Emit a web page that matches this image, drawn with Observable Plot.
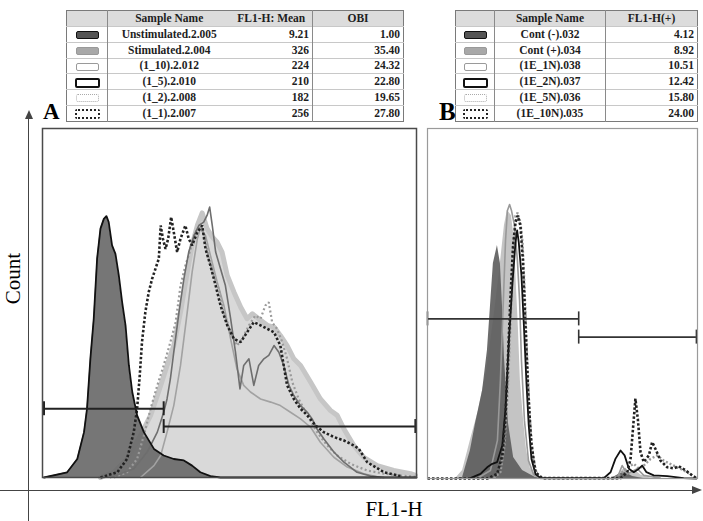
<!DOCTYPE html>
<html><head><meta charset="utf-8">
<script src="https://cdn.jsdelivr.net/npm/d3@7"></script>
<script src="https://cdn.jsdelivr.net/npm/@observablehq/plot@0.6"></script>
<style>
body{margin:0;background:#fff;}
#root{position:relative;width:703px;height:521px;overflow:hidden;font-family:"Liberation Serif","Times New Roman",serif;background:#fff;}
.abs{position:absolute;}
table.leg{position:absolute;border-collapse:collapse;table-layout:fixed;font-weight:bold;font-size:11.5px;color:#1e1e1e;border:1px solid #7a7a7a;}
table.leg td{height:14.8px;padding:0 3px;border-top:1px solid #c8c8c8;line-height:13px;white-space:nowrap;overflow:hidden;}
table.leg tr.hd td{background:#dcdcdc;border-top:none;height:15px;}
table.leg td.ic{border-right:1px solid #8a8a8a;text-align:center;padding:0;}
table.leg td.c{text-align:center;}
table.leg td.r{text-align:right;}
table.leg td.sep{border-right:1px solid #8a8a8a;}
.sw{display:inline-block;width:21px;height:6px;border-radius:2px;vertical-align:middle;}
.lab{font-weight:bold;font-size:23px;line-height:1;}
</style></head>
<body><div id="root"></div>
<script>
// ---------- Legend tables ----------
const namesA = ["Unstimulated.2.005","Stimulated.2.004","(1_10).2.012","(1_5).2.010","(1_2).2.008","(1_1).2.007"];
const meansA = ["9.21","326","224","210","182","256"];
const obiA = ["1.00","35.40","24.32","22.80","19.65","27.80"];
const headersA = ["Sample Name","FL1-H: Mean","OBI"];
const namesB = ["Cont (-).032","Cont (+).034","(1E_1N).038","(1E_2N).037","(1E_5N).036","(1E_10N).035"];
const fl1B = ["4.12","8.92","10.51","12.42","15.80","24.00"];
const headersB = ["Sample Name","FL1-H(+)"];

// ---------- Panel A histograms: [channel (0-100), count (% of max scale)] ----------
const unstimA = [[0.4,0],[6.6,1.5],[9.3,5.3],[11.1,13],[11.9,19.7],[12.8,34],[13.7,45.5],[14.6,62.7],[15.5,71.3],[16.4,74.1],[17.1,74.9],[17.7,73.2],[18.6,66.5],[19.5,64.1],[20.4,57.9],[21.3,50.2],[22.2,43.6],[23.1,32.1],[24.0,24.5],[25.3,17.8],[27.1,13],[29.8,8.2],[32.4,6.3],[35.1,5.3],[37.8,4.9],[40.0,3.4],[42.2,1.5],[44.9,0.4],[47.6,0],[100,0]];
const stimA = [[15.5,0],[19.1,1.5],[22.6,5.3],[26.2,12],[28.9,17.8],[31.6,26.4],[33.3,32.1],[35.1,37.8],[36.9,47.4],[38.7,58.8],[40,66.5],[41.4,72.2],[42.7,75.8],[44,71.3],[45.4,68.9],[46.7,67.4],[48,64.6],[49.4,57.9],[51.2,53.1],[53,48.8],[54.7,45.5],[56.1,46.9],[57.8,45.5],[60.1,43.6],[61.9,43.1],[63.6,40.7],[65.4,37.8],[67.2,34],[69,32.1],[71.7,27.3],[74.3,22.5],[77,19.2],[78.8,17.8],[80.6,13.9],[83.2,9.2],[85.9,5.8],[89.5,3.4],[93.9,2],[98.4,1.1],[99.7,0.6]];
const r1_10A = [[26.2,0],[29.8,3.4],[31.6,6.3],[33.3,13],[35.1,20.6],[36.9,32.1],[38.7,47.4],[40,58.8],[41.4,68.4],[42.2,71.3],[43.6,69.3],[44.9,63.6],[46.7,56],[48.5,49.3],[50.3,39.7],[52,31.1],[53.8,26.4],[55.6,24.5],[58.3,22.5],[61,21.6],[63.6,20.6],[66.3,18.7],[69,16.8],[71.7,14.4],[74.3,10.1],[77.9,5.8],[81.5,3],[85.9,1.1],[90.4,0]];
const r1_5A = [[18.2,0],[24.4,2.5],[28,7.3],[30.7,13],[32.4,18.7],[33.3,22.5],[34.2,28.3],[35.1,35.9],[36.5,47.4],[37.8,56.9],[39.1,64.6],[40.5,69.3],[41.8,72.2],[43.1,73.2],[44,75.1],[44.7,77.5],[45.4,72.2],[46.3,64.6],[47.6,59.8],[48.9,55],[50.3,45.5],[51.6,35.9],[52.8,25.4],[53.8,32.1],[55.2,34],[56.5,26.4],[57.8,32.1],[59.2,34],[60.5,35],[61.9,37.8],[63.2,35.9],[64.5,32.1],[65.9,26.4],[67.2,23.5],[69,20.6],[70.8,18.7],[72.1,16.8],[73.4,13.9],[75.2,11.1],[77.9,7.3],[80.6,4.4],[84.1,1.5],[87.7,0.4],[91.3,0]];
const r1_2A = [[19.1,0],[22.6,1.5],[25.3,5.3],[27.1,12],[28.9,19.7],[30.7,26.4],[32.4,32.1],[34.2,38.8],[35.6,44.5],[36.9,55],[38.2,60.7],[39.6,65.5],[40.9,70.3],[42.2,72.2],[43.3,69.3],[44.5,62.7],[45.8,57.9],[47.1,54.1],[48.5,47.4],[50.3,41.6],[52,37.8],[53.4,39.7],[55.2,43.6],[56.9,46.4],[58.3,45.5],[59.6,49.3],[60.5,50.2],[61.4,44.5],[62.7,42.6],[64.1,38.8],[65.4,34],[66.8,27.3],[68.5,22.5],[70.8,17.8],[73.4,13],[76.1,9.2],[78.8,6.3],[82.4,3.9],[86.8,2],[91.3,1.1],[95.7,0.6],[99.7,0.2]];
const r1_1A = [[15.5,0],[20,1.5],[22.6,5.3],[24.4,13],[25.3,19.7],[26,29.2],[26.6,38.8],[27.5,47.4],[28.4,53.1],[29.3,56.9],[30.2,59.8],[31.1,62.7],[31.6,72.2],[32.2,68.4],[32.9,65.5],[33.6,68.4],[34.4,74.6],[35.1,70.3],[36,64.6],[36.9,68.4],[38.2,72.2],[39.1,68.4],[40,66.5],[41.4,70.3],[42.7,72.2],[43.6,65.5],[44.9,60.7],[46.3,55],[47.6,49.3],[49.4,43.6],[51.2,39.7],[53,38.8],[54.7,41.6],[56.5,44.5],[58.3,43.6],[60.1,42.6],[61.9,41.6],[63.6,37.8],[65.4,26.4],[67.2,22.5],[69,19.7],[70.8,17.8],[73,14.9],[75.2,13],[77.9,11.6],[80.6,10.6],[83.2,9.2],[84.6,8.2],[86.8,4.4],[91.3,1.5],[95.7,0.4]];
const gatesA = [{x1:0.4,x2:32.4,y:19.7},{x1:32.4,x2:99.7,y:14.6}];

// ---------- Panel B histograms ----------
const contNegB = [[10.4,0],[13,0.3],[15.9,8],[17.8,15.7],[20.4,25.1],[22.2,36.6],[23.3,48.9],[24.4,61.4],[25.9,66.6],[27,61.4],[27.8,48.9],[28.5,34.6],[30,15.7],[31.9,6],[35.2,2.3],[40,0.3],[43.7,0],[68,0],[71,1.2],[73,1.8],[76,0.6],[80,0]];
const contPosB = [[10.4,0],[13,2.3],[15.9,10.9],[18.9,19.4],[21.9,30.9],[24.4,45.1],[26.7,59.4],[28.5,72.3],[29.6,76.6],[31.1,75.1],[32.2,68],[33,53.7],[33.7,42.3],[34.4,28],[35.6,16.6],[36.7,8],[38.1,2.9],[41.1,0.3],[45,0],[69,0],[71.5,1.8],[72.7,2.8],[74.5,1.5],[77,2.3],[79,1],[83,0]];
const e1NB = [[18.9,0.3],[23.3,2.3],[25.9,10.9],[27,28],[28.1,50.9],[28.9,68],[29.6,76.6],[30.4,78.3],[31.1,76.6],[32.2,72.3],[33.3,62.3],[34.1,50.9],[34.8,33.7],[35.9,16.6],[37.4,5.1],[39.3,1.1],[41.9,0],[70.2,0],[72.1,3.7],[74,1.3],[77.7,2.8],[80.1,0.9],[86.2,0.1]];
const e2NB = [[15.9,0.1],[19.6,1.3],[22.1,3.2],[24,4.2],[25.8,4.7],[27.7,9.4],[28.9,19.9],[30.1,38.9],[31.4,55.1],[32.6,67.5],[33.2,70.9],[33.8,67.5],[34.8,58],[35.7,43.7],[36.7,26.6],[37.5,15.1],[38.5,5.6],[40,1.3],[41.9,0.1],[65.3,0.1],[67.8,1.8],[69.6,5.6],[71.5,8],[73,6.6],[74.6,2.8],[76.4,1.8],[78.3,2.8],[79.5,3.7],[81.1,1.8],[83.8,0.9],[88.8,0.7],[94.9,0.1],[99.6,0]];
const e5NB = [[24.6,0.1],[27,1.8],[28.5,9.4],[29.7,24.7],[30.7,43.7],[31.7,62.8],[32.6,75.1],[33.4,75.9],[34.4,73.2],[35.2,67.5],[36,53.2],[36.9,34.2],[37.9,17],[39.1,5.6],[40.6,0.9],[43.1,0.1],[69,0.1],[71.5,1.3],[74,3.2],[76.4,4.2],[78.3,2.8],[80.1,3.7],[82.6,5.6],[85.1,6.6],[87.5,5.1],[91.2,3.7],[94.9,2.3],[98,0.9]];
const e10NB = [[0,0],[22.1,0],[25.8,1.3],[27.7,6.6],[28.9,18],[29.7,32.3],[30.7,51.3],[31.7,66.6],[32.6,73.2],[33.4,75.1],[34.4,72.3],[35.3,62.8],[36.3,43.7],[37.3,24.7],[38.4,10.4],[40,1.8],[42.5,0.1],[71.5,0.1],[74,1.8],[75.2,5.6],[76.2,15.1],[77,22.8],[77.9,17],[78.9,7.5],[80.1,4.7],[82,6.6],[83.2,10.4],[84.4,8.5],[86.3,5.1],[88.8,3.2],[91.2,2.9],[93.1,3.5],[95.6,2.3],[98,0.9],[99.6,0.1]];
const gatesB = [{x1:0,x2:56,y:45.6},{x1:56,x2:99.6,y:40.4}];

// ---------- build page ----------
const root = document.getElementById("root");
function el(tag, cls, style, html){const e=document.createElement(tag); if(cls) e.className=cls; if(style) e.style.cssText=style; if(html!==undefined) e.innerHTML=html; root.appendChild(e); return e;}

const swA = [
  "background:#555;border:1.5px solid #111;",
  "background:#a8a8a8;border:1.5px solid #999;",
  "background:#fff;border:1.5px solid #9a9a9a;",
  "background:#fff;border:2px solid #111;",
  "background:#fff;border:1.5px dotted #aaa;",
  "background:#fff;border:2px dotted #222;"
];
function makeTable(left, widths, headers, rows, sepIdx){
  const t = document.createElement("table"); t.className="leg";
  t.style.left = left+"px"; t.style.top = "10px";
  const cg = document.createElement("colgroup");
  widths.forEach(w=>{const c=document.createElement("col"); c.style.width=w+"px"; cg.appendChild(c);});
  t.appendChild(cg);
  const hr = document.createElement("tr"); hr.className="hd";
  hr.innerHTML = `<td class="ic"></td>` + headers.map((h,i)=>`<td class="c${sepIdx.includes(i+1)?" sep":""}">${h}</td>`).join("");
  t.appendChild(hr);
  rows.forEach((r,k)=>{
    const tr=document.createElement("tr");
    tr.innerHTML = `<td class="ic"><span class="sw" style="${swA[k]}"></span></td>` +
      r.map((v,i)=>`<td class="${i===0?"c":"r"}${sepIdx.includes(i+1)?" sep":""}">${v}</td>`).join("");
    t.appendChild(tr);
  });
  root.appendChild(t);
}
makeTable(66, [41,123,82,91], headersA, namesA.map((n,i)=>[n,meansA[i],obiA[i]]), [2]);
makeTable(455, [39,111,92], headersB, namesB.map((n,i)=>[n,fl1B[i]]), [1]);

el("div","abs lab","left:43px;top:100px;","A");
el("div","abs lab","left:439px;top:99px;font-size:25px;","B");

// outer axes
el("div","abs","left:28px;top:114px;width:1.2px;height:410px;background:#444;");
el("div","abs","left:25px;top:110px;width:0;height:0;border-left:4px solid transparent;border-right:4px solid transparent;border-bottom:9px solid #444;");
el("div","abs","left:0px;top:489.5px;width:694px;height:1.2px;background:#444;");
el("div","abs","left:692px;top:486px;width:0;height:0;border-top:4px solid transparent;border-bottom:4px solid transparent;border-left:10px solid #444;");
el("div","abs","left:344px;top:497px;width:100px;text-align:center;font-size:21px;","FL1-H");
el("div","abs","left:-37px;top:266px;width:100px;text-align:center;font-size:21px;transform:rotate(-90deg);","Count");

const X = d=>d[0], Y = d=>d[1];
function gateMarks(g, tick, stroke, sw){
  return [
    Plot.ruleY(g,{y:"y",x1:"x1",x2:"x2",stroke,strokeWidth:sw}),
    Plot.ruleX(g,{x:"x1",y1:d=>d.y-tick,y2:d=>d.y+tick,stroke,strokeWidth:sw}),
    Plot.ruleX(g,{x:"x2",y1:d=>d.y-tick,y2:d=>d.y+tick,stroke,strokeWidth:sw})
  ];
}
const dots = (stroke, w, dash) => ({x:X, y:Y, stroke, strokeWidth:w, strokeDasharray:dash, strokeLinecap:"butt", strokeLinejoin:"miter"});
const base = {marginTop:1,marginLeft:1,marginRight:1,x:{domain:[0,100],axis:null},y:{domain:[0,100],axis:null},style:{background:"transparent",overflow:"visible"}};

const pA = Plot.plot({...base, width:376, height:352, marginBottom:2, marks:[
  Plot.areaY(stimA,{x:X,y:Y,fill:"#d9d9d9"}),
  Plot.lineY(stimA,{x:X,y:Y,stroke:"#c6c6c6",strokeWidth:5,strokeLinejoin:"round"}),
  Plot.areaY(unstimA,{x:X,y:Y,fill:"#6a6a6a",fillOpacity:0.92}),
  Plot.lineY(r1_10A,{x:X,y:Y,stroke:"#a2a2a2",strokeWidth:1.6}),
  Plot.lineY(r1_2A,dots("#9a9a9a",2.2,"2,2.5")),
  Plot.lineY(r1_5A,{x:X,y:Y,stroke:"#6e6e6e",strokeWidth:1.6}),
  Plot.lineY(r1_1A,dots("#222",2.6,"2.5,2")),
  Plot.lineY(unstimA,{x:X,y:Y,stroke:"#111",strokeWidth:1.8}),
  ...gateMarks(gatesA,2,"#222",2),
  Plot.frame({stroke:"#4a4a4a",strokeWidth:1.5})
]});
const dA = el("div","abs","left:41px;top:127px;"); dA.appendChild(pA);

const pB = Plot.plot({...base, width:272, height:352, marginBottom:1, marks:[
  Plot.areaY(contPosB,{x:X,y:Y,fill:"#c4c4c4"}),
  Plot.areaY(contNegB,{x:X,y:Y,fill:"#5c5c5c",fillOpacity:0.9}),
  Plot.lineY(e1NB,{x:X,y:Y,stroke:"#999",strokeWidth:1.6}),
  Plot.lineY(e5NB,dots("#9a9a9a",2.4,"2,2")),
  Plot.lineY(e2NB,{x:X,y:Y,stroke:"#111",strokeWidth:1.8}),
  Plot.lineY(e10NB,dots("#222",2.6,"2.5,2")),
  ...gateMarks(gatesB,2,"#333",1.6),
  Plot.frame({stroke:"#9a9a9a",strokeWidth:1.2})
]});
const dB = el("div","abs","left:426px;top:127px;"); dB.appendChild(pB);
</script></body></html>
